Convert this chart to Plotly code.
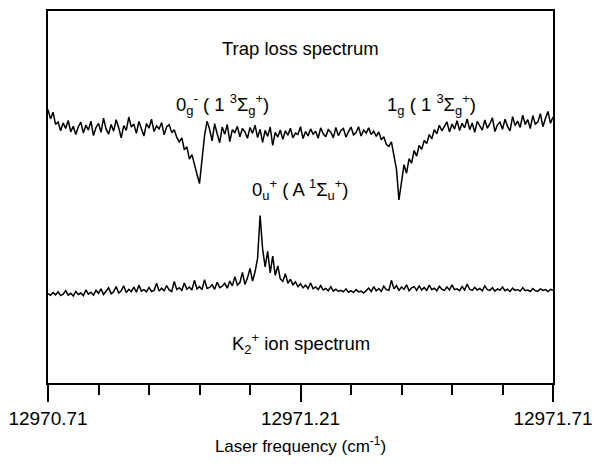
import numpy as np
import plotly.graph_objects as go

# Laser frequency grid (cm^-1), sampled uniformly across the scan
freq_start = 12970.71
freq_end = 12971.71
n_points = 201

# Trap loss spectrum (arbitrary units, upper trace)
trap_loss = [
    73.5, 71.0, 72.8, 69.5, 70.2, 67.8, 69.9, 68.4, 70.6, 67.5,
    69.0, 66.8, 68.9, 70.1, 67.2, 69.3, 68.0, 70.4, 66.5, 68.7,
    69.8, 67.4, 71.2, 68.3, 66.9, 69.5, 67.7, 70.8, 68.6, 65.9,
    69.2, 67.9, 71.5, 68.8, 69.6, 67.1, 70.3, 68.2, 66.4, 69.7,
    68.5, 70.9, 67.6, 69.1, 68.3, 70.0, 66.7, 68.9, 69.4, 67.3,
    68.1, 66.0, 64.8, 65.9, 62.7, 63.5, 60.2, 61.4, 58.3, 56.1,
    53.6, 59.8, 66.5, 70.4, 68.2, 65.1, 69.7, 67.0, 64.6, 68.8,
    66.9, 69.5, 64.9, 68.1, 67.3, 69.0, 66.2, 68.4, 67.5, 65.8,
    68.7, 67.1, 69.3, 66.0, 68.2, 64.7, 67.9, 66.3, 68.8, 63.9,
    67.4, 66.1, 68.0, 65.5, 67.8, 66.6, 68.5, 65.9, 67.2, 66.8,
    68.9, 65.7, 67.6, 66.4, 68.3, 66.9, 67.7, 65.8, 68.6, 67.0,
    66.2, 68.1, 67.4, 65.9, 68.7, 66.5, 67.9, 68.4, 66.1, 67.6,
    68.8, 66.7, 67.3, 68.9, 66.4, 68.0, 67.2, 68.6, 66.8, 67.7,
    66.3, 67.5, 65.4, 66.2, 64.1, 63.6, 64.8, 61.2, 57.5, 49.2,
    53.8, 58.7, 56.4, 60.3, 59.1, 62.5, 61.0, 63.9, 62.8, 65.2,
    64.4, 66.8, 65.6, 68.1, 67.0, 69.3, 67.8, 68.9, 70.2, 67.5,
    69.6, 68.3, 70.5, 67.9, 69.8, 68.6, 71.0, 68.1, 69.9, 67.4,
    70.3, 69.1, 68.0, 70.7, 68.5, 69.7, 71.3, 67.6, 69.4, 70.1,
    68.2, 70.9, 69.0, 67.8, 71.6, 69.2, 70.4, 68.7, 72.0, 69.5,
    70.8, 68.4, 71.9, 69.6, 70.2, 72.4, 68.9, 71.1, 73.0, 69.8,
    71.5,
]

# K2+ ion spectrum (arbitrary units, lower trace)
ion_signal = [
    24.0, 23.6, 24.3, 23.7, 24.5, 23.5, 23.9, 24.8, 23.6, 24.1,
    23.4, 24.6, 23.8, 24.2, 23.5, 25.0, 23.9, 24.4, 23.6, 24.9,
    24.1, 25.3, 23.8, 24.7, 25.6, 24.0, 24.5, 25.9, 24.2, 24.8,
    26.1, 24.3, 25.2, 24.6, 25.8, 24.4, 26.3, 24.7, 25.1, 24.5,
    25.7, 24.6, 24.9, 26.8, 24.7, 25.5, 24.8, 26.2, 25.0, 24.6,
    27.3, 25.1, 25.6, 24.9, 26.9, 25.2, 25.8, 25.0, 27.6, 25.3,
    25.9, 25.1, 27.8, 25.4, 25.7, 26.4, 25.2, 27.1, 25.6, 26.0,
    26.8, 25.5, 27.4, 26.1, 28.6, 26.3, 27.0, 29.7, 26.5, 28.2,
    30.8, 27.4, 29.9, 33.5, 45.0,
    36.0, 31.2, 35.4, 29.6, 34.1,
    28.9, 31.5, 28.0, 27.3, 29.4, 26.8, 27.9, 26.4, 27.2, 25.9,
    26.7, 25.6, 26.3, 25.4, 26.9, 25.3, 25.8, 25.1, 26.2, 25.0,
    25.4, 24.8, 25.9, 24.7, 25.2, 24.6, 24.9, 24.5, 25.3, 24.4,
    24.8, 24.3, 25.1, 24.5, 24.7, 24.2, 24.9, 25.5, 24.6, 25.9,
    24.8, 25.4, 24.6, 26.0, 25.1, 24.9, 27.6, 25.3, 26.2, 24.9,
    25.8, 25.2, 26.4, 24.8, 25.6, 25.9, 24.9, 26.1, 25.0, 25.7,
    24.9, 26.3, 25.1, 25.5, 24.8, 26.0, 25.2, 24.9, 25.8, 25.0,
    26.4, 25.1, 25.3, 24.8, 25.9, 25.0, 26.6, 25.2, 24.9, 25.7,
    25.0, 25.4, 24.8, 26.1, 25.1, 24.9, 25.6, 24.7, 25.3, 24.9,
    25.8, 24.8, 25.2, 24.6, 25.5, 24.9, 25.1, 24.7, 25.6, 24.8,
    25.0, 24.6, 25.4, 24.8, 24.7, 25.3, 24.9, 25.1, 24.6, 25.2,
    24.9,
]

tick_values = [12970.71, 12971.21, 12971.71]
tick_labels = ["12970.71", "12971.21", "12971.71"]

x_title = "Laser frequency (cm<sup>-1</sup>)"
label_texts = [
    "Trap loss spectrum",
    "0<sub>g</sub><sup>-</sup> ( 1 <sup>3</sup>Σ<sub>g</sub><sup>+</sup>)",
    "1<sub>g</sub> ( 1 <sup>3</sup>Σ<sub>g</sub><sup>+</sup>)",
    "0<sub>u</sub><sup>+</sup> ( A <sup>1</sup>Σ<sub>u</sub><sup>+</sup>)",
    "K<sub>2</sub><sup>+</sup> ion spectrum",
]
label_x = [12971.21, 12971.055, 12971.47, 12971.21, 12971.21]
label_y = [90.0, 75.0, 75.0, 52.0, 10.5]

freq = np.linspace(freq_start, freq_end, n_points)

FONT = "Liberation Sans, Arial, Helvetica, sans-serif"

fig = go.Figure()
for series in (trap_loss, ion_signal):
    fig.add_trace(go.Scatter(
        x=freq, y=series, mode="lines",
        line=dict(color="black", width=1.5),
        showlegend=False, hoverinfo="skip",
    ))

for t, xv, yv in zip(label_texts, label_x, label_y):
    fig.add_annotation(
        x=xv, y=yv, xref="x", yref="y", text=t, showarrow=False,
        font=dict(family=FONT, size=18.5, color="black"),
        xanchor="center", yanchor="middle",
    )

fig.update_layout(
    width=598, height=467,
    margin=dict(l=48, r=45, t=11, b=84, autoexpand=False),
    paper_bgcolor="white", plot_bgcolor="white",
    font=dict(family=FONT, color="black"),
)

fig.update_xaxes(
    range=[freq_start, freq_end],
    showline=True, linecolor="black", linewidth=2, mirror=True,
    showgrid=False, zeroline=False,
    tickmode="array", tickvals=tick_values, ticktext=tick_labels,
    ticks="outside", ticklen=17, tickwidth=2, tickcolor="black",
    tickfont=dict(family=FONT, size=19, color="black"),
    minor=dict(dtick=0.1, tick0=freq_start, ticks="outside", ticklen=10,
               tickwidth=2, tickcolor="black", showgrid=False),
    title=dict(text=x_title, font=dict(family=FONT, size=17, color="black"),
               standoff=12),
    automargin=False,
)
fig.update_yaxes(
    range=[0, 100],
    showline=True, linecolor="black", linewidth=2, mirror=True,
    showgrid=False, zeroline=False, showticklabels=False, ticks="",
)

fig.write_html("out.html")
